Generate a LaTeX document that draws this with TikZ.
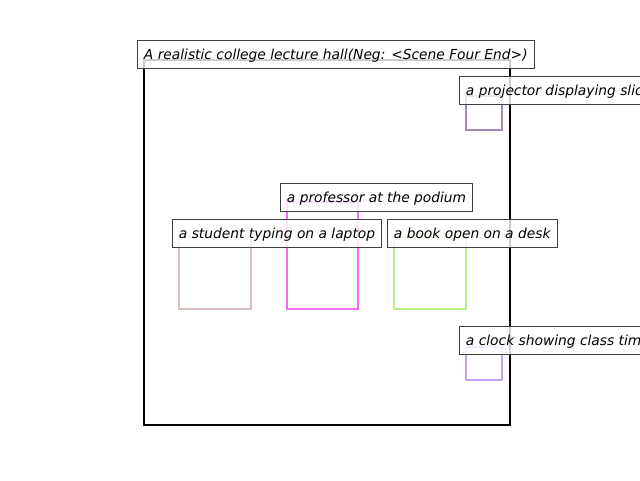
\documentclass[tikz,border=0pt]{standalone}
\usepackage{fontspec}
\setmainfont{DejaVu Sans}
\begin{document}
\begin{tikzpicture}[x=1pt,y=-1pt,
  lbl/.style={anchor=west,draw=black!75,line width=0.9pt,fill=white,fill opacity=0.8,text opacity=1,
    font=\fontsize{13.8}{16}\selectfont\itshape,inner xsep=6.5pt,inner ysep=0pt,minimum height=28pt,
    text height=13pt,text depth=3pt},
  obj/.style={line width=2pt}]
\useasboundingbox (0,0) rectangle (640,480);
\definecolor{cproj}{RGB}{163,138,178}
\definecolor{cprof}{RGB}{240,112,232}
\definecolor{cstud}{RGB}{216,192,192}
\definecolor{cbook}{RGB}{184,240,136}
\definecolor{cclock}{RGB}{192,160,240}
\draw[obj,black] (144,60) rectangle (510,425);
\draw[obj,cproj] (466,96) rectangle (502,130);
\draw[obj,cprof] (287,202) rectangle (358,309);
\draw[obj,cstud] (179,237) rectangle (251,309);
\draw[obj,cbook] (394,237) rectangle (466,309);
\draw[obj,cclock] (466,347) rectangle (502,380);
\node[lbl] (main) at (137,54) {A realistic college lecture hall(Neg: <Scene Four End>)};
\node[lbl] (proj) at (459,90) {a projector displaying slides};
\node[lbl] (prof) at (280,197) {a professor at the podium};
\node[lbl] (stud) at (172,233) {a student typing on a laptop};
\node[lbl] (book) at (387,233) {a book open on a desk};
\node[lbl] (clock) at (459,340) {a clock showing class time};
\end{tikzpicture}
\end{document}
